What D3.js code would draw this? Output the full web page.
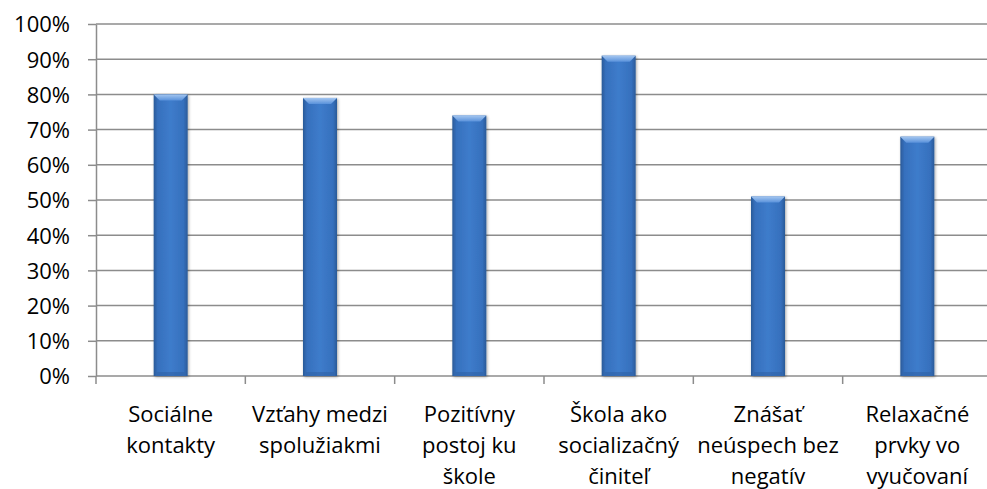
<!DOCTYPE html>
<html lang="sk">
<head>
    <meta charset="utf-8">
    <style>
        body { margin: 0; background: #FFF; }
        svg { display: block; }
        .axis text { font: 22px "Open Sans", sans-serif; fill: #000; }
    </style>
</head>
<body>
    <svg></svg>
    <script src="https://cdn.jsdelivr.net/npm/d3@7/dist/d3.min.js"></script>
    <script>
        // Data
        const categories = [
            ["Sociálne", "kontakty"],
            ["Vzťahy medzi", "spolužiakmi"],
            ["Pozitívny", "postoj ku", "škole"],
            ["Škola ako", "socializačný", "činiteľ"],
            ["Znášať", "neúspech bez", "negatív"],
            ["Relaxačné", "prvky vo", "vyučovaní"]
        ];
        const values = [0.80, 0.79, 0.74, 0.91, 0.51, 0.68];
        const yTicks = [0, 0.1, 0.2, 0.3, 0.4, 0.5, 0.6, 0.7, 0.8, 0.9, 1.0];

        const W = 987, H = 489;
        const svg = d3.select("svg").attr("width", W).attr("height", H);

        const plotLeft = 96, plotRight = 992, plotTop = 24, plotBottom = 376;
        const idx = d3.range(categories.length);

        const xScale = d3.scaleBand().domain(idx).range([plotLeft, plotRight]);
        const yScale = d3.scaleLinear().domain([0, 1]).range([plotBottom, plotTop]);
        const barW = 34;

        /************************************************************
        * Gradients
        ************************************************************/
        const defs = svg.append("defs");
        const body = defs.append("linearGradient").attr("id", "barBody")
            .attr("x1", "0%").attr("x2", "100%").attr("y1", "0%").attr("y2", "0%");
        [["0%", "#2A5A98"], ["12%", "#3670BD"], ["50%", "#3E7CCB"], ["88%", "#3670BD"], ["100%", "#2A5A98"]]
            .forEach(([o, c]) => body.append("stop").attr("offset", o).attr("stop-color", c));

        const topBevel = defs.append("linearGradient").attr("id", "barTop")
            .attr("x1", "0%").attr("x2", "0%").attr("y1", "0%").attr("y2", "100%");
        topBevel.append("stop").attr("offset", "0%").attr("stop-color", "#A4C6F0");
        topBevel.append("stop").attr("offset", "100%").attr("stop-color", "#5A92DB");

        const shadow = defs.append("filter").attr("id", "shadow")
            .attr("x", "-30%").attr("y", "-10%").attr("width", "160%").attr("height", "120%");
        shadow.append("feGaussianBlur").attr("in", "SourceAlpha").attr("stdDeviation", 1.5).attr("result", "b");
        shadow.append("feOffset").attr("in", "b").attr("dx", 1).attr("dy", 1).attr("result", "o");
        shadow.append("feComponentTransfer").attr("in", "o").attr("result", "s")
            .append("feFuncA").attr("type", "linear").attr("slope", 0.35);
        const m = shadow.append("feMerge");
        m.append("feMergeNode").attr("in", "s");
        m.append("feMergeNode").attr("in", "SourceGraphic");

        /************************************************************
        * Grid + axes
        ************************************************************/
        const yAxis = svg.append("g")
            .attr("class", "axis")
            .attr("transform", `translate(${plotLeft}, 0)`)
            .call(d3.axisLeft(yScale).tickValues(yTicks)
                .tickFormat(d3.format(".0%"))
                .tickSize(8).tickSizeOuter(0).tickPadding(18));
        yAxis.select(".domain").attr("stroke", "#8C8C8C").attr("stroke-width", 1.5);
        yAxis.selectAll(".tick line").attr("stroke", "#8C8C8C").attr("stroke-width", 1.5);
        yAxis.selectAll("text").attr("dy", "0.36em");

        svg.append("g").selectAll("line").data(yTicks).join("line")
            .attr("x1", plotLeft).attr("x2", plotRight)
            .attr("y1", d => yScale(d)).attr("y2", d => yScale(d))
            .attr("stroke", "#8C8C8C").attr("stroke-width", 1.5);

        // X axis ticks between categories
        const xTickPos = d3.range(categories.length + 1).map(i => plotLeft + i * xScale.bandwidth());
        svg.append("g").selectAll("line").data(xTickPos).join("line")
            .attr("x1", d => d).attr("x2", d => d)
            .attr("y1", plotBottom).attr("y2", plotBottom + 8)
            .attr("stroke", "#8C8C8C").attr("stroke-width", 1.5);

        /************************************************************
        * Bars
        ************************************************************/
        const bars = svg.append("g").selectAll("g").data(values).join("g")
            .attr("filter", "url(#shadow)");
        bars.append("rect")
            .attr("x", (d, i) => xScale(i) + xScale.bandwidth() / 2 - barW / 2)
            .attr("y", d => yScale(d))
            .attr("width", barW)
            .attr("height", d => plotBottom - yScale(d))
            .attr("fill", "url(#barBody)");
        // top bevel
        const bev = 6;
        bars.append("path")
            .attr("fill", "url(#barTop)")
            .attr("d", (d, i) => {
                const x0 = xScale(i) + xScale.bandwidth() / 2 - barW / 2, y0 = yScale(d);
                return `M${x0},${y0}L${x0 + barW},${y0}L${x0 + barW - bev},${y0 + bev}L${x0 + bev},${y0 + bev}Z`;
            });
        // bottom darker band
        bars.append("rect")
            .attr("x", (d, i) => xScale(i) + xScale.bandwidth() / 2 - barW / 2 + 3)
            .attr("y", plotBottom - 4)
            .attr("width", barW - 6).attr("height", 4)
            .attr("fill", "#2E62A6").attr("opacity", 0.6);

        /************************************************************
        * Category labels
        ************************************************************/
        const labels = svg.append("g").attr("class", "axis").selectAll("text").data(categories).join("text")
            .attr("text-anchor", "middle")
            .attr("x", (d, i) => xScale(i) + xScale.bandwidth() / 2)
            .attr("y", 422);
        labels.selectAll("tspan").data(d => d).join("tspan")
            .attr("x", function() { return this.parentNode.getAttribute("x"); })
            .attr("dy", (d, i) => i === 0 ? 0 : 31)
            .text(d => d);
    </script>
</body>
</html>
